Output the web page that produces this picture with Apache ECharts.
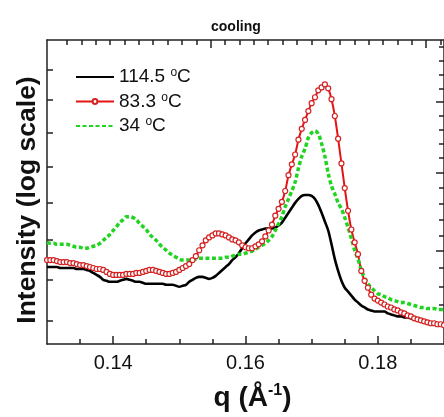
<!DOCTYPE html>
<html><head><meta charset="utf-8">
<script src="https://cdn.jsdelivr.net/npm/echarts@6/dist/echarts.min.js"></script>
<style>html,body{margin:0;padding:0;background:#fff}#c{width:444px;height:417px}</style>
</head><body><div id="c"></div><script>
// q (1/Angstrom) sampling points
const q = [0.1300,0.1305,0.1310,0.1315,0.1320,0.1325,0.1330,0.1335,0.1340,0.1345,
0.1350,0.1355,0.1360,0.1365,0.1370,0.1375,0.1380,0.1385,0.1390,0.1395,
0.1400,0.1405,0.1410,0.1415,0.1420,0.1425,0.1430,0.1435,0.1440,0.1445,
0.1450,0.1455,0.1460,0.1465,0.1470,0.1475,0.1480,0.1485,0.1490,0.1495,
0.1500,0.1505,0.1510,0.1515,0.1520,0.1525,0.1530,0.1535,0.1540,0.1545,
0.1550,0.1555,0.1560,0.1565,0.1570,0.1575,0.1580,0.1585,0.1590,0.1595,
0.1600,0.1605,0.1610,0.1615,0.1620,0.1625,0.1630,0.1635,0.1640,0.1645,
0.1650,0.1655,0.1660,0.1665,0.1670,0.1675,0.1680,0.1685,0.1690,0.1695,
0.1700,0.1705,0.1710,0.1715,0.1720,0.1725,0.1730,0.1735,0.1740,0.1745,
0.1750,0.1755,0.1760,0.1765,0.1770,0.1775,0.1780,0.1785,0.1790,0.1795,
0.1800,0.1805,0.1810,0.1815,0.1820,0.1825,0.1830,0.1835,0.1840,0.1845,
0.1850,0.1855,0.1860,0.1865,0.1870,0.1875,0.1880,0.1885,0.1890,0.1895,
0.1900];
// log intensity, arbitrary units
const t1145 = [78,78,78,78,77,77,77,77,77,76, 76,76,75,74,72,70,68,65,64,63,
63,63,64,65,66,65,64,63,63,62, 61,61,61,61,61,61,60,60,60,59,
58,59,60,63,65,67,68,68,67,66, 67,69,72,75,78,81,85,88,92,97,
102,106,110,113,115,116,117,117,117,118, 120,123,128,133,138,143,147,150,151,151,
150,147,141,133,124,115,101,86,74,64, 57,53,49,45,42,39,37,35,34,33,
33,33,33,31,30,29,28,28,27,27, 26,25,25,24,23,23,22,22,21,21, 20];
const t833 = [85,85,85,84,83,83,83,82,82,81, 80,80,79,78,77,76,76,75,73,71,
70,70,70,70,71,71,71,72,72,73, 74,75,75,74,73,72,71,71,72,73,
75,77,79,81,85,89,95,100,105,108, 110,112,112,111,110,108,106,105,103,100,
98,97,97,99,101,104,109,115,121,130, 137,144,155,171,182,192,207,218,227,236,
244,250,257,260,263,259,248,231,208,183, 158,135,116,103,91,74,64,57,50,46,
44,42,40,38,37,35,34,32,31,29, 28,26,25,24,23,22,21,21,20,20, 19];
const t34 = [103,102,102,101,101,101,101,100,99,98, 98,97,97,98,99,100,102,105,108,111,
115,119,123,126,129,129,128,126,122,119, 116,111,108,105,101,98,95,92,90,88,
86,85,85,85,86,86,87,87,87,87, 87,87,87,87,88,88,89,90,91,91,
92,93,94,96,98,100,102,105,109,115, 122,129,139,147,155,164,178,190,198,209,
214,216,213,203,190,173,160,152,143,137, 128,118,107,95,86,75,67,61,57,54,
51,50,48,47,45,44,43,42,42,41, 40,39,38,37,37,36,36,36,35,35, 35];
const seriesNames = ['114.5 °C', '83.3 °C', '34 °C'];
const xLabelTicks = [0.14, 0.16, 0.18];
const xMinorTicks = [0.135, 0.145, 0.15, 0.155, 0.165, 0.17, 0.175, 0.185];
const topTicks = [0.1330,0.1352,0.1373,0.1395,0.1417,0.1439,0.1460,0.1482,0.1504,0.1526,
0.1569,0.1591,0.1613,0.1634,0.1656,0.1678,0.1700,0.1721,0.1743,0.1765,0.1786,0.1808,0.1830,0.1852,0.1895];
const topLongTicks = [0.1547, 0.1873];
const leftTicks = [278, 247, 214, 180, 143, 106, 65, 24];
const rightLongTicks = [245, 174, 94];
const rightShortTicks = [301,287,273,259,231,217,203,189,158,142,126,110,77,58,40,21];

const FONT = "'Liberation Sans', Arial, Helvetica, sans-serif";
const AX = '#222';
const NONE = 'rgba(0,0,0,0)';
const chart = echarts.init(document.getElementById('c'), null, {renderer: 'canvas'});
const pairs = ys => q.map((x, i) => [x, ys[i]]);
const line = {show: true, onZero: false, lineStyle: {color: AX, width: 1.5}};
const noLine = {show: false, onZero: false};
const tick = (vals, len) => ({show: true, inside: true, length: len, customValues: vals, lineStyle: {color: AX, width: 1.5}});
const xBase = {type: 'value', min: 0.13, max: 0.19, splitLine: {show: false}};
const yBase = {type: 'value', min: 0, max: 308, splitLine: {show: false}};

chart.setOption({
  animation: false,
  title: {text: 'cooling', left: 206, top: 15,
    textStyle: {fontFamily: FONT, fontSize: 14, fontWeight: 'bold', color: '#111'}},
  grid: {left: 47, top: 40, right: -1, bottom: 69},
  legend: {
    orient: 'vertical', left: 70, top: 62, itemWidth: 38, itemHeight: 6, itemGap: 5,
    data: [
      {name: seriesNames[0], itemStyle: {color: NONE, borderColor: NONE, borderWidth: 0}},
      {name: seriesNames[1]},
      {name: seriesNames[2], itemStyle: {color: NONE, borderColor: NONE, borderWidth: 0}}
    ],
    formatter: n => '{n|' + n.replace(' °C', ' ') + '}{s|o}{n|C}',
    textStyle: {fontFamily: FONT, fontSize: 19, color: '#111',
      rich: {n: {fontFamily: FONT, fontSize: 19, lineHeight: 20, color: '#111'},
             s: {fontFamily: FONT, fontSize: 12, lineHeight: 12, verticalAlign: 'top', color: '#111'}}}
  },
  xAxis: [
    Object.assign({}, xBase, {position: 'bottom', axisLine: line, axisTick: tick(xLabelTicks, 8),
      axisLabel: {customValues: xLabelTicks, fontFamily: FONT, fontSize: 20, color: '#111', margin: 9},
      name: '{b|q (Å}{p|-1}{b|)}', nameLocation: 'middle', nameGap: 39,
      nameTextStyle: {padding: [0, 0, 0, 14], rich: {
        b: {fontFamily: FONT, fontSize: 28, fontWeight: 'bold', lineHeight: 30, color: '#111'},
        p: {fontFamily: FONT, fontSize: 16, fontWeight: 'bold', lineHeight: 14, verticalAlign: 'top', color: '#111'}}}}),
    Object.assign({}, xBase, {position: 'bottom', axisLine: noLine, axisTick: tick(xMinorTicks, 5), axisLabel: {show: false}}),
    Object.assign({}, xBase, {position: 'top', axisLine: line, axisTick: tick(topTicks, 5), axisLabel: {show: false}}),
    Object.assign({}, xBase, {position: 'top', axisLine: noLine, axisTick: tick(topLongTicks, 8), axisLabel: {show: false}})
  ],
  yAxis: [
    Object.assign({}, yBase, {position: 'left', axisLine: line, axisTick: tick(leftTicks, 6), axisLabel: {show: false},
      name: 'Intensity (log scale)', nameLocation: 'middle', nameGap: 6, nameRotate: 90,
      nameTextStyle: {fontFamily: FONT, fontSize: 26.5, fontWeight: 'bold', color: '#111', padding: [0, 16, 0, 0]}}),
    Object.assign({}, yBase, {position: 'right', axisLine: line, axisTick: tick(rightLongTicks, 8), axisLabel: {show: false}}),
    Object.assign({}, yBase, {position: 'right', axisLine: noLine, axisTick: tick(rightShortTicks, 5), axisLabel: {show: false}})
  ],
  series: [
    {name: seriesNames[0], type: 'line', data: pairs(t1145), symbol: 'none', smooth: 0.3,
      lineStyle: {color: '#000', width: 2.6}, itemStyle: {color: '#000'}},
    {name: seriesNames[1], type: 'line', data: pairs(t833), symbol: 'circle', symbolSize: 5, smooth: 0.3,
      lineStyle: {color: '#e41414', width: 2}, itemStyle: {color: '#fff', borderColor: '#d42222', borderWidth: 1.2}},
    {name: seriesNames[2], type: 'line', data: pairs(t34), symbol: 'none', smooth: 0.3,
      lineStyle: {color: '#22d422', width: 3.5, type: [4, 2.5]}, itemStyle: {color: '#22d422'}}
  ]
});
</script></body></html>
